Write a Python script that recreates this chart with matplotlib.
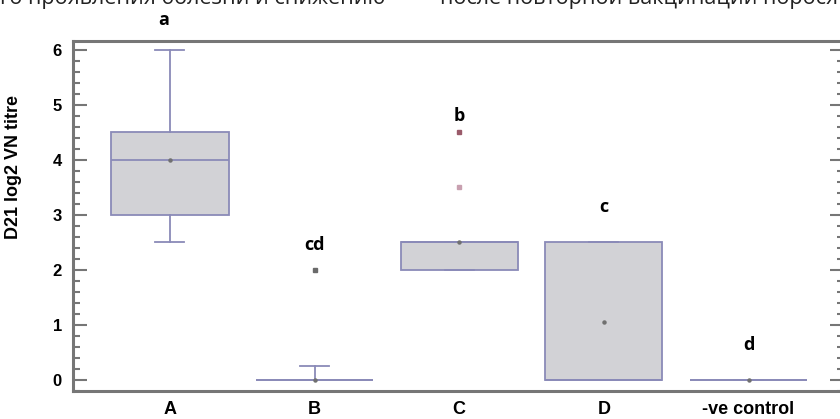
import matplotlib.pyplot as plt
from matplotlib.ticker import MultipleLocator

# Box statistics (log2 VN titre at D21)
groups = ["A", "B", "C", "D", "-ve control"]
q1 = [3.0, 0.0, 2.0, 0.0, 0.0]
median = [4.0, 0.0, 2.5, 0.0, 0.0]
q3 = [4.5, 0.0, 2.5, 2.5, 0.0]
whis_lo = [2.5, 0.0, 2.0, 0.0, 0.0]
whis_hi = [6.0, 0.25, 2.5, 2.5, 0.0]
means = [4.0, 0.0, 2.5, 1.05, 0.0]
outliers = [[], [2.0], [3.5, 4.5], [], []]
sig_letters = ["a", "cd", "b", "c", "d"]
letter_y = [6.55, 2.45, 4.8, 3.15, 0.64]

edge = "#8a8ab8"
fill = "#d2d2d6"
spine = "#767676"
outlier_colors = {(1, 2.0): "#6a6a6a", (2, 3.5): "#c8a0b0", (2, 4.5): "#9a5a6a"}

fig = plt.figure(figsize=(8.4, 4.19), dpi=100)
ax = fig.add_axes([73 / 840, (419 - 391) / 419, (844 - 73) / 840, (391 - 41) / 419])

stats = []
for i, g in enumerate(groups):
    stats.append({"label": g, "q1": q1[i], "med": median[i], "q3": q3[i],
                  "whislo": whis_lo[i], "whishi": whis_hi[i],
                  "mean": means[i], "fliers": []})

pos = list(range(1, len(groups) + 1))
ax.bxp(stats, positions=pos, widths=0.81, patch_artist=True,
       showmeans=True, showfliers=False,
       boxprops=dict(facecolor=fill, edgecolor=edge, linewidth=1.3),
       medianprops=dict(color=edge, linewidth=1.3),
       whiskerprops=dict(color=edge, linewidth=1.3),
       capprops=dict(color=edge, linewidth=1.3),
       capwidths=0.2,
       meanprops=dict(marker="o", markersize=2.2, markerfacecolor="#707070",
                      markeredgecolor="#707070"))

for i, vals in enumerate(outliers):
    for v in vals:
        ax.plot(pos[i], v, "s", markersize=3.5,
                color=outlier_colors.get((i, v), "#666666"), zorder=3)

for i, s in enumerate(sig_letters):
    dx = -0.04 if i == 0 else 0.0
    ax.text(pos[i] + dx, letter_y[i], s, ha="center", va="center",
            fontsize=13, fontweight="bold", family="Open Sans",
            clip_on=False)

ax.set_xlim(0.33, 5.66)
ax.set_ylim(-0.2, 6.16)
ax.yaxis.set_major_locator(MultipleLocator(1))
ax.yaxis.set_minor_locator(MultipleLocator(0.2))
ax.tick_params(axis="y", which="major", direction="in", length=10, width=1.5,
               color=spine, labelsize=12, right=True, pad=8)
ax.tick_params(axis="y", which="minor", direction="in", length=5, width=1.5,
               color=spine, right=True)
ax.tick_params(axis="x", length=0, labelsize=13, pad=7)
ax.set_xticks(pos)
ax.set_xticklabels(groups)
for lab in ax.get_yticklabels() + ax.get_xticklabels():
    lab.set_fontweight("bold")
    lab.set_family("Liberation Sans")

for side in ["left", "bottom", "top", "right"]:
    ax.spines[side].set_color(spine)
    ax.spines[side].set_linewidth(2.2)

ax.set_ylabel("D21 log2 VN titre", fontsize=13, fontweight="bold",
              family="Liberation Sans", labelpad=14)
ax.yaxis.set_label_coords(-0.066, 0.64)

# cropped caption line from the page above the figure
fig.text(0.0, 1 - 4 / 419, "го проявления болезни и снижению",
         fontsize=15.5, family="Open Sans", va="baseline", ha="left", color="#222222")
fig.text(440 / 840, 1 - 4 / 419, "после повторной вакцинации поросят",
         fontsize=15.5, family="Open Sans", va="baseline", ha="left", color="#222222")

fig.savefig("out.png", dpi=100)
